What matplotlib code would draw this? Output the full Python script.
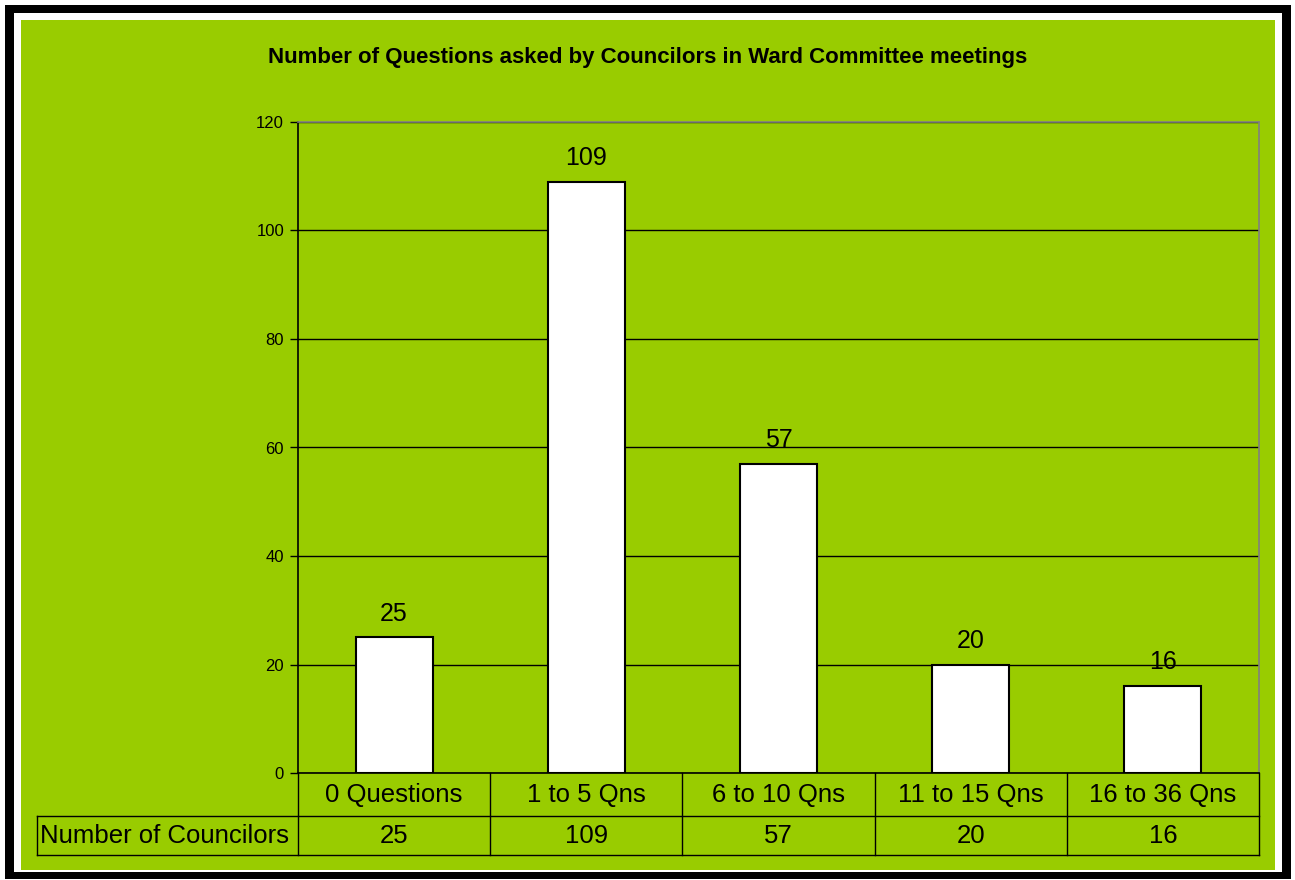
import matplotlib
matplotlib.use("Agg")
import matplotlib.pyplot as plt
from matplotlib.patches import Rectangle
from matplotlib.lines import Line2D

plt.rcParams['font.family'] = ['Liberation Sans', 'DejaVu Sans']

categories = ["0 Questions", "1 to 5 Qns", "6 to 10 Qns", "11 to 15 Qns", "16 to 36 Qns"]
councilors = [25, 109, 57, 20, 16]
series_name = "Number of Councilors"
title = "Number of Questions asked by Councilors in Ward Committee meetings"
yticks = [0, 20, 40, 60, 80, 100, 120]

GREEN = "#99CC00"
W, H = 1295, 880

fig = plt.figure(figsize=(W / 100, H / 100), dpi=100)
fig.patch.set_facecolor("white")


def fx(px):
    return px / W


def fy(py):
    return 1 - py / H


# frame: black outer band, white gap, green chart area
for (x0, y0, x1, y1, col) in [(5, 5, 1291, 879, "black"),
                              (14, 13, 1282, 872, "white"),
                              (21, 20, 1275, 870, GREEN)]:
    fig.add_artist(Rectangle((fx(x0), fy(y1)), fx(x1 - x0), (y1 - y0) / H,
                             transform=fig.transFigure, facecolor=col,
                             edgecolor="none", zorder=-10))

# plot area
left_px, right_px, top_px, bottom_px = 298, 1259, 122, 773
ax = fig.add_axes([fx(left_px), fy(bottom_px), fx(right_px - left_px), (bottom_px - top_px) / H])
ax.set_zorder(5)
ax.set_facecolor(GREEN)
ax.set_xlim(-0.5, len(categories) - 0.5)
ax.set_ylim(0, 120)

x = list(range(len(categories)))
ax.bar(x, councilors, width=0.4, color="white", edgecolor="black", linewidth=1.5, zorder=3)
for xi, v in zip(x, councilors):
    ax.annotate(str(v), (xi, v), xytext=(0, 8.5), textcoords="offset points",
                ha="center", va="bottom", fontsize=18, color="black", zorder=4,
                annotation_clip=False)

ax.set_yticks(yticks)
ax.set_yticklabels([str(t) for t in yticks], fontsize=12)
ax.tick_params(axis="y", direction="out", length=6, width=1, color="black", pad=4)
ax.set_xticks([])
ax.yaxis.grid(True, color="black", linewidth=1)
ax.set_axisbelow(True)
for side in ["top", "right"]:
    ax.spines[side].set_color("#808080")
    ax.spines[side].set_linewidth(1.2)
for side in ["left", "bottom"]:
    ax.spines[side].set_color("black")
    ax.spines[side].set_linewidth(1.2)

fig.text(0.5, fy(57), title, ha="center", va="center", fontsize=16, fontweight="bold")

# data table below the axis
fig.canvas.draw()
row1_bot, row2_bot = 816, 855
label_left = 37


def data_x_px(xv):
    return ax.transData.transform((xv, 0))[0]


bounds = [data_x_px(b - 0.5) for b in range(len(categories) + 1)]
line_kw = dict(transform=fig.transFigure, color="black", linewidth=1.0, zorder=6)
fig.add_artist(Line2D([fx(label_left), fx(bounds[-1])], [fy(row1_bot), fy(row1_bot)], **line_kw))
fig.add_artist(Line2D([fx(label_left), fx(bounds[-1])], [fy(row2_bot), fy(row2_bot)], **line_kw))
for b in bounds:
    fig.add_artist(Line2D([fx(b), fx(b)], [fy(bottom_px), fy(row2_bot)], **line_kw))
fig.add_artist(Line2D([fx(label_left), fx(label_left)], [fy(row1_bot), fy(row2_bot)], **line_kw))

for i, (cat, v) in enumerate(zip(categories, councilors)):
    cx = (bounds[i] + bounds[i + 1]) / 2
    fig.text(fx(cx), fy((bottom_px + row1_bot) / 2), cat, ha="center", va="center", fontsize=18.5)
    fig.text(fx(cx), fy((row1_bot + row2_bot) / 2), str(v), ha="center", va="center", fontsize=18.5)
fig.text(fx(label_left + 3), fy((row1_bot + row2_bot) / 2), series_name,
         ha="left", va="center", fontsize=18.5)

fig.savefig("out.png", dpi=100, facecolor=fig.get_facecolor())
